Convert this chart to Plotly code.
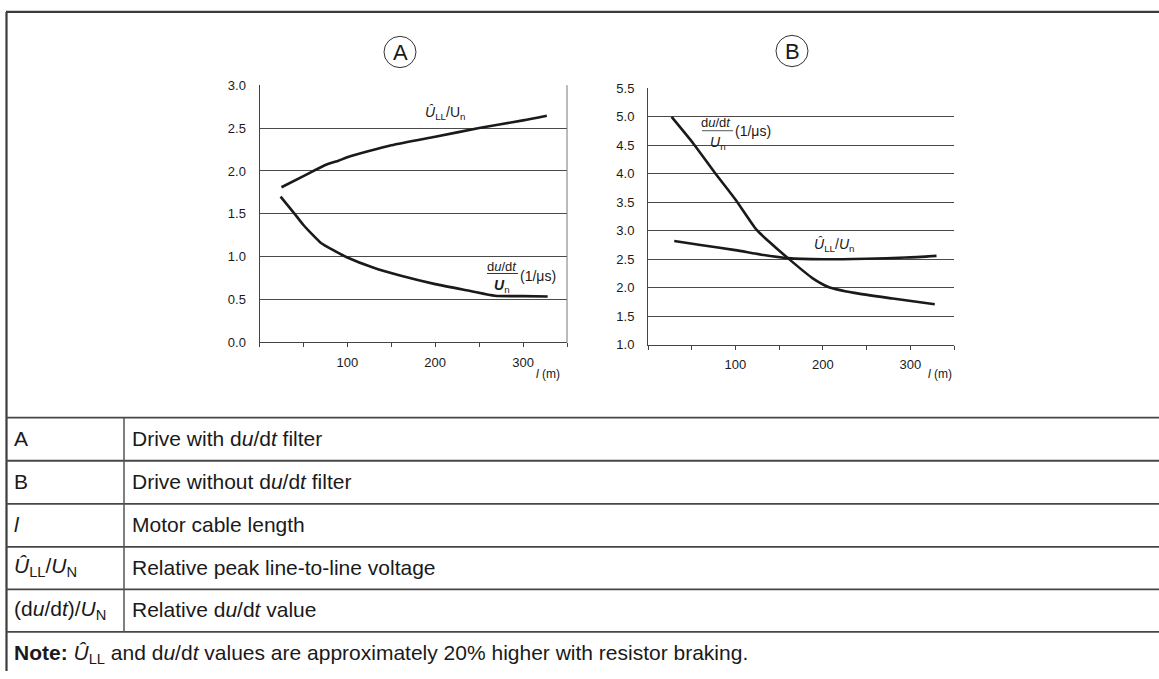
import plotly.graph_objects as go

W, H = 1159, 679
FONT = "Liberation Sans, Arial, sans-serif"
INK = "#1a1a1a"
RULE = "#3c3c3c"

# --- Chart A: drive with du/dt filter -------------------------------------
a_len_peak = [25, 50, 75, 90, 100, 150, 200, 250, 300, 327]
a_peak = [1.81, 1.94, 2.07, 2.12, 2.16, 2.30, 2.40, 2.50, 2.59, 2.645]

a_len_dudt = [24, 40, 50, 60, 70, 85, 100, 130, 160, 200, 240, 268, 300, 328]
a_dudt = [1.70, 1.50, 1.37, 1.26, 1.16, 1.07, 0.99, 0.87, 0.78, 0.68, 0.60, 0.545, 0.54, 0.535]

# --- Chart B: drive without du/dt filter ----------------------------------
b_len_peak = [30, 60, 100, 130, 160, 200, 250, 295, 330]
b_peak = [2.82, 2.75, 2.66, 2.58, 2.52, 2.50, 2.51, 2.53, 2.56]

b_len_dudt = [27, 52, 76, 100, 124, 137, 160, 188, 207, 236, 280, 328]
b_dudt = [5.00, 4.53, 4.03, 3.55, 3.02, 2.83, 2.52, 2.17, 2.01, 1.91, 1.81, 1.71]

# --- Axes ticks -------------------------------------------------------------
x_tickvals = [100, 200, 300]
x_minor_step = 50
a_yticks = [0.0, 0.5, 1.0, 1.5, 2.0, 2.5, 3.0]
b_yticks = [1.0, 1.5, 2.0, 2.5, 3.0, 3.5, 4.0, 4.5, 5.0, 5.5]

# --- Legend table -----------------------------------------------------------
table_keys = [
    "A",
    "B",
    "<i>l</i>",
    "<i>Û</i><sub>LL</sub>/<i>U</i><sub>N</sub>",
    "(d<i>u</i>/d<i>t</i>)/<i>U</i><sub>N</sub>",
]
table_desc = [
    "Drive with d<i>u</i>/d<i>t</i> filter",
    "Drive without d<i>u</i>/d<i>t</i> filter",
    "Motor cable length",
    "Relative peak line-to-line voltage",
    "Relative d<i>u</i>/d<i>t</i> value",
]
note_text = ("<b>Note:</b> <i>Û</i><sub>LL</sub> and d<i>u</i>/d<i>t</i> values are "
             "approximately 20% higher with resistor braking.")


def px(x):
    return x / W


def py(y):
    return 1 - y / H


curve = dict(color=INK, width=2.6, shape="spline", smoothing=0.6)

fig = go.Figure()
fig.add_trace(go.Scatter(x=a_len_peak, y=a_peak, xaxis="x", yaxis="y", mode="lines", line=curve))
fig.add_trace(go.Scatter(x=a_len_dudt, y=a_dudt, xaxis="x", yaxis="y", mode="lines", line=curve))
fig.add_trace(go.Scatter(x=b_len_peak, y=b_peak, xaxis="x2", yaxis="y2", mode="lines", line=curve))
fig.add_trace(go.Scatter(x=b_len_dudt, y=b_dudt, xaxis="x2", yaxis="y2", mode="lines", line=curve))

xcommon = dict(
    range=[0, 350], tickmode="array", tickvals=x_tickvals,
    ticks="outside", ticklen=4, tickwidth=1, tickcolor="#444",
    minor=dict(tick0=0, dtick=x_minor_step, ticks="outside", ticklen=4, tickwidth=1,
               tickcolor="#444", showgrid=False),
    showline=True, linecolor="#444", linewidth=1, showgrid=False, zeroline=False,
    tickfont=dict(family=FONT, size=13, color=INK), ticklabelstandoff=4, fixedrange=True,
)
ycommon = dict(
    tickmode="array", tickformat=".1f", ticks="", showline=True, linecolor="#444",
    linewidth=1, showgrid=True, gridcolor="#4a4a4a", gridwidth=1, zeroline=False,
    tickfont=dict(family=FONT, size=13, color=INK), ticklabelstandoff=10, fixedrange=True,
)

fig.update_layout(
    width=W, height=H, autosize=False,
    margin=dict(l=0, r=0, t=0, b=0, pad=0),
    paper_bgcolor="white", plot_bgcolor="white",
    showlegend=False, hovermode=False,
    font=dict(family=FONT, color=INK),
    xaxis=dict(domain=[px(259.5), px(567)], anchor="y", **xcommon),
    yaxis=dict(domain=[py(343), py(80)], anchor="x", range=[0, 3.0], tickvals=a_yticks, **ycommon),
    xaxis2=dict(domain=[px(648), px(954)], anchor="y2", **xcommon),
    yaxis2=dict(domain=[py(345.3), py(83.3)], anchor="x2", range=[1.0, 5.5], tickvals=b_yticks, **ycommon),
)

shapes = []
ann = []

# right border of chart A
shapes.append(dict(type="line", xref="x domain", yref="y domain", x0=1, x1=1, y0=0, y1=1,
                   line=dict(color="#777", width=1)))

# circled chart letters
for letter, cx, cy in [("A", 400, 46), ("B", 792, 45)]:
    shapes.append(dict(type="circle", xref="paper", yref="paper",
                       x0=px(cx - 16), x1=px(cx + 16), y0=py(cy + 16), y1=py(cy - 16),
                       line=dict(color="#333", width=1)))
    ann.append(dict(text=letter, x=px(cx), y=py(cy + 1), font=dict(size=22)))

# axis titles
for cx in (548, 940):
    ann.append(dict(text="<i>l</i> (m)", x=px(cx), y=py(375), font=dict(size=12)))

# curve labels, chart A
ann.append(dict(text="<i>Û</i><sub>LL</sub>/U<sub>n</sub>", x=px(445), y=py(108), font=dict(size=14)))
ann.append(dict(text="d<i>u</i>/d<i>t</i>", x=px(502), y=py(265), font=dict(size=13)))
ann.append(dict(text="<b><i>U</i></b><sub>n</sub>", x=px(502), y=py(285), font=dict(size=14)))
ann.append(dict(text="(1/μs)", x=px(538), y=py(275), font=dict(size=14)))
shapes.append(dict(type="line", xref="paper", yref="paper", x0=px(487), x1=px(518),
                   y0=py(272.5), y1=py(272.5), line=dict(color="#333", width=1)))

# curve labels, chart B
ann.append(dict(text="d<i>u</i>/d<i>t</i>", x=px(716), y=py(118), font=dict(size=13)))
ann.append(dict(text="<i>U</i><sub>n</sub>", x=px(718), y=py(139), font=dict(size=14)))
ann.append(dict(text="(1/μs)", x=px(753), y=py(127), font=dict(size=14)))
shapes.append(dict(type="line", xref="paper", yref="paper", x0=px(702), x1=px(733),
                   y0=py(126.5), y1=py(126.5), line=dict(color="#555", width=1)))
ann.append(dict(text="<i>Û</i><sub>LL</sub>/<i>U</i><sub>n</sub>", x=px(834), y=py(243), font=dict(size=14)))

# outer frame (top and left edges)
shapes.append(dict(type="line", xref="paper", yref="paper", x0=px(6), x1=1.0, y0=py(5), y1=py(5),
                   line=dict(color=RULE, width=2.2)))
shapes.append(dict(type="line", xref="paper", yref="paper", x0=px(6.5), x1=px(6.5), y0=py(5), y1=0,
                   line=dict(color=RULE, width=2.2)))

# table rules
row_lines = [420, 464, 508, 552, 595.5, 639]
for yl in row_lines:
    shapes.append(dict(type="line", xref="paper", yref="paper", x0=px(6), x1=1.0, y0=py(yl), y1=py(yl),
                       line=dict(color="#474747", width=1.8)))
shapes.append(dict(type="line", xref="paper", yref="paper", x0=px(124), x1=px(124),
                   y0=py(row_lines[0]), y1=py(row_lines[-1]), line=dict(color="#555", width=1.5)))

for i, (k, d) in enumerate(zip(table_keys, table_desc)):
    yc = (row_lines[i] + row_lines[i + 1]) / 2 - 1
    ann.append(dict(text=k, x=px(12), y=py(yc), xanchor="left", font=dict(size=21)))
    ann.append(dict(text=d, x=px(130), y=py(yc), xanchor="left", font=dict(size=21)))
ann.append(dict(text=note_text, x=px(12), y=py(662), xanchor="left", font=dict(size=21)))

for a in ann:
    a.setdefault("xref", "paper")
    a.setdefault("yref", "paper")
    a.setdefault("xanchor", "center")
    a.setdefault("yanchor", "middle")
    a["showarrow"] = False
    a["font"] = dict(family=FONT, color=INK, **a.get("font", {}))

fig.update_layout(shapes=shapes, annotations=ann)

fig.write_html("out.html", config={"displayModeBar": False, "staticPlot": True})
